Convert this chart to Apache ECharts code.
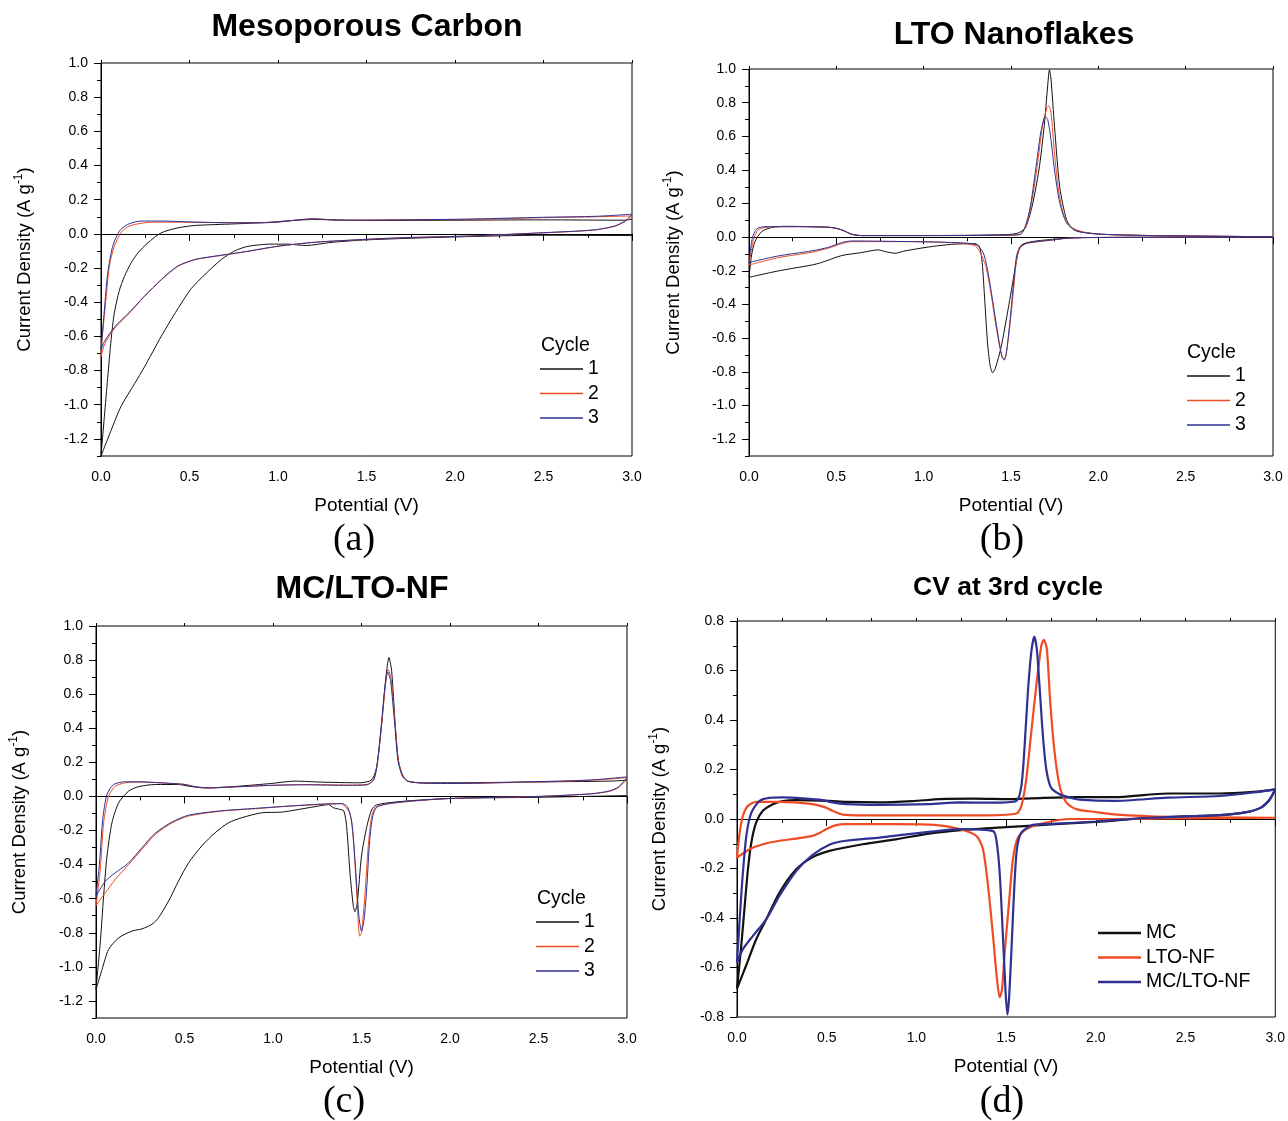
<!DOCTYPE html>
<html>
<head>
<meta charset="utf-8">
<script src="https://cdn.jsdelivr.net/npm/echarts@6/dist/echarts.min.js"></script>
<style>
  html, body { margin: 0; padding: 0; background: #fff; }
  #chart { width: 1288px; height: 1121px; }
</style>
</head>
<body>
<div id="chart"></div>
<script>
// ---- tick values ----
const xMajor = [0, 0.5, 1.0, 1.5, 2.0, 2.5, 3.0]
const xMinor = [0.25, 0.75, 1.25, 1.75, 2.25, 2.75]
const yMajorWide = [-1.2, -1.0, -0.8, -0.6, -0.4, -0.2, 0, 0.2, 0.4, 0.6, 0.8, 1.0]
const yMinorWide = [-1.3, -1.1, -0.9, -0.7, -0.5, -0.3, -0.1, 0.1, 0.3, 0.5, 0.7, 0.9]
const yMajorD = [-0.8, -0.6, -0.4, -0.2, 0, 0.2, 0.4, 0.6, 0.8]
const yMinorD = [-0.7, -0.5, -0.3, -0.1, 0.1, 0.3, 0.5, 0.7]

// ---- (a) Mesoporous Carbon: [potential V, current A/g] ----
// cathodic sweep 3.0 -> 0, then anodic sweep 0 -> 3.0
const aC1Neg = [[3.0, -0.01], [2.5, -0.008], [2.0, -0.018], [1.5, -0.035], [1.3, -0.05], [1.16, -0.068], [1.05, -0.06], [0.96, -0.06], [0.83, -0.073], [0.755, -0.10], [0.68, -0.15], [0.585, -0.24], [0.51, -0.32], [0.43, -0.445], [0.34, -0.60], [0.245, -0.78], [0.19, -0.876], [0.113, -1.01], [0.057, -1.15], [0.0, -1.3]]
const aC1Pos = [[0.0, -1.3], [0.019, -1.07], [0.038, -0.84], [0.057, -0.62], [0.075, -0.465], [0.104, -0.33], [0.132, -0.25], [0.17, -0.17], [0.21, -0.11], [0.264, -0.053], [0.34, 0.006], [0.434, 0.035], [0.53, 0.049], [0.717, 0.057], [0.906, 0.065], [1.2, 0.084], [1.5, 0.078], [2.0, 0.08], [2.5, 0.082], [2.95, 0.08], [3.0, 0.085]]
const aC2Neg = [[3.0, 0.10], [2.964, 0.074], [2.905, 0.045], [2.806, 0.025], [2.7, 0.016], [2.5, 0.006], [2.1, -0.012], [1.72, -0.022], [1.5, -0.032], [1.21, -0.049], [1.0, -0.073], [0.81, -0.106], [0.62, -0.135], [0.53, -0.151], [0.434, -0.19], [0.34, -0.27], [0.245, -0.367], [0.15, -0.475], [0.094, -0.533], [0.057, -0.58], [0.019, -0.65], [0.0, -0.72]]
const aC2Pos = [[0.0, -0.72], [0.006, -0.62], [0.028, -0.386], [0.047, -0.19], [0.075, -0.073], [0.113, 0.006], [0.15, 0.041], [0.21, 0.059], [0.30, 0.069], [0.5, 0.068], [0.755, 0.065], [0.95, 0.066], [1.2, 0.088], [1.35, 0.08], [1.7, 0.082], [2.1, 0.085], [2.5, 0.095], [2.8, 0.1], [3.0, 0.105]]
const aC3Neg = [[3.0, 0.115], [2.964, 0.078], [2.905, 0.047], [2.806, 0.026], [2.7, 0.017], [2.5, 0.007], [2.1, -0.012], [1.72, -0.022], [1.5, -0.032], [1.21, -0.049], [1.0, -0.072], [0.81, -0.105], [0.62, -0.134], [0.53, -0.15], [0.434, -0.188], [0.34, -0.268], [0.245, -0.365], [0.15, -0.47], [0.094, -0.525], [0.057, -0.572], [0.019, -0.63], [0.0, -0.68]]
const aC3Pos = [[0.0, -0.68], [0.019, -0.445], [0.038, -0.23], [0.066, -0.073], [0.104, 0.016], [0.15, 0.055], [0.226, 0.075], [0.34, 0.075], [0.53, 0.069], [0.755, 0.065], [0.95, 0.066], [1.2, 0.088], [1.35, 0.08], [1.7, 0.082], [2.1, 0.087], [2.5, 0.097], [2.8, 0.103], [3.0, 0.115]]

// ---- (b) LTO Nanoflakes ----
const bC1Neg = [[3.0, 0.002], [2.3, 0.0], [1.92, -0.002], [1.82, -0.006], [1.72, -0.014], [1.62, -0.026], [1.562, -0.044], [1.542, -0.084], [1.523, -0.19], [1.483, -0.43], [1.444, -0.65], [1.41, -0.78], [1.395, -0.805], [1.38, -0.76], [1.365, -0.62], [1.35, -0.38], [1.335, -0.15], [1.32, -0.056], [1.294, -0.038], [1.16, -0.042], [1.027, -0.058], [0.893, -0.081], [0.836, -0.095], [0.78, -0.085], [0.74, -0.075], [0.645, -0.091], [0.53, -0.109], [0.416, -0.15], [0.359, -0.165], [0.168, -0.20], [0.0, -0.238]]
const bC1Pos = [[0.0, -0.238], [0.015, -0.105], [0.034, -0.026], [0.073, 0.034], [0.13, 0.058], [0.206, 0.065], [0.359, 0.063], [0.473, 0.058], [0.53, 0.044], [0.588, 0.018], [0.645, 0.01], [1.0, 0.01], [1.483, 0.016], [1.542, 0.026], [1.582, 0.056], [1.621, 0.185], [1.66, 0.40], [1.69, 0.66], [1.71, 0.90], [1.72, 0.995], [1.729, 0.94], [1.749, 0.66], [1.779, 0.30], [1.818, 0.105], [1.857, 0.046], [1.916, 0.03], [2.015, 0.018], [2.31, 0.01], [3.0, 0.003]]
const bC2Neg = [[3.0, 0.002], [2.31, 0.0], [1.916, -0.002], [1.818, -0.006], [1.72, -0.018], [1.621, -0.03], [1.582, -0.04], [1.552, -0.064], [1.532, -0.134], [1.513, -0.33], [1.493, -0.53], [1.473, -0.69], [1.461, -0.727], [1.444, -0.69], [1.414, -0.53], [1.385, -0.33], [1.355, -0.17], [1.32, -0.085], [1.294, -0.05], [1.217, -0.036], [1.12, -0.03], [0.93, -0.026], [0.588, -0.026], [0.53, -0.038], [0.454, -0.065], [0.359, -0.089], [0.168, -0.121], [0.0, -0.165]]
const bC2Pos = [[0.0, -0.165], [0.025, -0.016], [0.053, 0.044], [0.111, 0.06], [0.263, 0.063], [0.473, 0.058], [0.53, 0.044], [0.588, 0.018], [0.645, 0.01], [1.0, 0.01], [1.523, 0.012], [1.562, 0.026], [1.592, 0.086], [1.621, 0.225], [1.65, 0.42], [1.68, 0.66], [1.706, 0.77], [1.716, 0.78], [1.729, 0.74], [1.749, 0.50], [1.769, 0.305], [1.798, 0.145], [1.838, 0.066], [1.916, 0.03], [2.015, 0.018], [2.31, 0.01], [3.0, 0.003]]
const bC3Neg = [[3.0, 0.002], [2.31, 0.0], [1.916, -0.002], [1.818, -0.006], [1.72, -0.018], [1.621, -0.03], [1.582, -0.038], [1.552, -0.058], [1.532, -0.11], [1.513, -0.29], [1.493, -0.51], [1.473, -0.69], [1.461, -0.73], [1.448, -0.71], [1.424, -0.57], [1.394, -0.37], [1.365, -0.19], [1.34, -0.09], [1.294, -0.042], [1.12, -0.03], [0.93, -0.026], [0.588, -0.022], [0.53, -0.032], [0.454, -0.06], [0.359, -0.081], [0.168, -0.111], [0.0, -0.15]]
const bC3Pos = [[0.0, -0.15], [0.019, -0.006], [0.044, 0.05], [0.092, 0.063], [0.263, 0.063], [0.473, 0.058], [0.53, 0.044], [0.588, 0.018], [0.645, 0.01], [1.0, 0.01], [1.55, 0.015], [1.582, 0.066], [1.611, 0.185], [1.641, 0.40], [1.67, 0.62], [1.696, 0.717], [1.71, 0.70], [1.729, 0.58], [1.749, 0.40], [1.779, 0.205], [1.818, 0.086], [1.877, 0.036], [2.015, 0.018], [2.31, 0.01], [3.0, 0.003]]

// ---- (c) MC/LTO-NF ----
const cC1Neg = [[3.0, 0.005], [2.5, -0.005], [2.0, -0.012], [1.718, -0.03], [1.584, -0.05], [1.557, -0.079], [1.53, -0.177], [1.5, -0.35], [1.476, -0.625], [1.463, -0.675], [1.454, -0.645], [1.435, -0.45], [1.416, -0.177], [1.40, -0.085], [1.37, -0.074], [1.34, -0.066], [1.315, -0.048], [1.237, -0.06], [1.124, -0.08], [1.049, -0.092], [0.936, -0.096], [0.823, -0.125], [0.748, -0.155], [0.673, -0.213], [0.598, -0.29], [0.523, -0.39], [0.466, -0.497], [0.41, -0.614], [0.353, -0.712], [0.316, -0.75], [0.26, -0.777], [0.203, -0.79], [0.128, -0.83], [0.071, -0.898], [0.034, -1.016], [0.0, -1.133]]
const cC1Pos = [[0.0, -1.133], [0.024, -0.86], [0.043, -0.585], [0.062, -0.35], [0.09, -0.155], [0.128, -0.037], [0.184, 0.031], [0.24, 0.057], [0.335, 0.07], [0.466, 0.07], [0.523, 0.06], [0.617, 0.05], [0.805, 0.06], [0.99, 0.076], [1.124, 0.09], [1.27, 0.084], [1.49, 0.08], [1.557, 0.097], [1.586, 0.175], [1.614, 0.43], [1.638, 0.70], [1.655, 0.815], [1.67, 0.74], [1.69, 0.43], [1.708, 0.214], [1.73, 0.13], [1.76, 0.09], [1.85, 0.08], [2.0, 0.08], [2.5, 0.085], [2.9, 0.09], [3.0, 0.095]]
const cC2Neg = [[3.0, 0.1], [2.95, 0.05], [2.9, 0.03], [2.8, 0.015], [2.5, 0.0], [2.0, -0.012], [1.718, -0.035], [1.584, -0.06], [1.557, -0.118], [1.538, -0.294], [1.52, -0.567], [1.50, -0.80], [1.49, -0.82], [1.473, -0.567], [1.454, -0.255], [1.435, -0.1], [1.40, -0.05], [1.387, -0.043], [1.27, -0.047], [1.086, -0.057], [0.9, -0.072], [0.71, -0.086], [0.523, -0.115], [0.43, -0.155], [0.335, -0.223], [0.26, -0.31], [0.184, -0.40], [0.109, -0.487], [0.053, -0.565], [0.0, -0.64]]
const cC2Pos = [[0.0, -0.64], [0.024, -0.43], [0.043, -0.155], [0.071, 0.002], [0.109, 0.06], [0.165, 0.08], [0.24, 0.084], [0.43, 0.076], [0.504, 0.07], [0.56, 0.057], [0.635, 0.05], [0.805, 0.057], [0.99, 0.065], [1.18, 0.07], [1.425, 0.067], [1.53, 0.07], [1.57, 0.1], [1.59, 0.2], [1.614, 0.42], [1.635, 0.65], [1.651, 0.745], [1.667, 0.69], [1.69, 0.42], [1.708, 0.214], [1.73, 0.13], [1.76, 0.09], [1.85, 0.078], [2.0, 0.076], [2.5, 0.085], [2.8, 0.095], [3.0, 0.11]]
const cC3Neg = [[3.0, 0.11], [2.95, 0.055], [2.9, 0.032], [2.8, 0.016], [2.5, 0.0], [2.0, -0.012], [1.718, -0.033], [1.59, -0.06], [1.565, -0.11], [1.546, -0.26], [1.53, -0.53], [1.515, -0.72], [1.50, -0.79], [1.485, -0.70], [1.465, -0.4], [1.445, -0.15], [1.42, -0.06], [1.387, -0.042], [1.27, -0.045], [1.086, -0.057], [0.9, -0.07], [0.71, -0.084], [0.523, -0.11], [0.43, -0.15], [0.335, -0.215], [0.26, -0.3], [0.184, -0.39], [0.109, -0.448], [0.053, -0.497], [0.0, -0.585]]
const cC3Pos = [[0.0, -0.585], [0.02, -0.39], [0.038, -0.135], [0.062, 0.012], [0.1, 0.07], [0.165, 0.086], [0.24, 0.086], [0.43, 0.076], [0.504, 0.07], [0.56, 0.057], [0.635, 0.05], [0.805, 0.057], [0.99, 0.065], [1.18, 0.068], [1.425, 0.065], [1.53, 0.068], [1.57, 0.1], [1.59, 0.2], [1.612, 0.42], [1.632, 0.64], [1.648, 0.73], [1.664, 0.68], [1.688, 0.42], [1.706, 0.21], [1.73, 0.12], [1.76, 0.09], [1.85, 0.078], [2.0, 0.076], [2.5, 0.087], [2.8, 0.097], [3.0, 0.115]]

// ---- (d) CV at 3rd cycle ----
const dMcNeg = [[3.0, 0.12], [2.97, 0.08], [2.92, 0.046], [2.84, 0.028], [2.69, 0.016], [2.3, 0.005], [2.0, -0.012], [1.75, -0.022], [1.5, -0.033], [1.25, -0.045], [1.07, -0.059], [0.885, -0.082], [0.7, -0.102], [0.515, -0.129], [0.42, -0.155], [0.33, -0.203], [0.237, -0.297], [0.163, -0.405], [0.107, -0.486], [0.052, -0.59], [0.0, -0.685]]
const dMcPos = [[0.0, -0.685], [0.024, -0.51], [0.043, -0.35], [0.061, -0.203], [0.08, -0.095], [0.107, -0.014], [0.144, 0.033], [0.2, 0.06], [0.256, 0.072], [0.33, 0.076], [0.515, 0.073], [0.607, 0.069], [0.793, 0.067], [0.978, 0.072], [1.13, 0.08], [1.32, 0.082], [1.52, 0.08], [1.71, 0.085], [1.9, 0.088], [2.1, 0.088], [2.4, 0.103], [2.69, 0.103], [2.88, 0.11], [3.0, 0.12]]
const dLtoNeg = [[3.0, 0.005], [2.4, 0.002], [2.1, 0.0], [1.853, 0.0], [1.705, -0.017], [1.612, -0.041], [1.566, -0.075], [1.538, -0.162], [1.516, -0.337], [1.492, -0.54], [1.477, -0.688], [1.464, -0.721], [1.449, -0.647], [1.427, -0.472], [1.399, -0.27], [1.371, -0.122], [1.334, -0.068], [1.241, -0.041], [1.1, -0.024], [0.9, -0.021], [0.607, -0.021], [0.552, -0.025], [0.496, -0.041], [0.46, -0.057], [0.42, -0.068], [0.33, -0.079], [0.237, -0.088], [0.144, -0.102], [0.07, -0.122], [0.0, -0.156]]
const dLtoPos = [[0.0, -0.156], [0.015, -0.055], [0.033, 0.013], [0.061, 0.053], [0.107, 0.069], [0.237, 0.069], [0.42, 0.06], [0.496, 0.046], [0.533, 0.033], [0.589, 0.018], [0.7, 0.015], [1.39, 0.015], [1.557, 0.022], [1.585, 0.053], [1.612, 0.16], [1.64, 0.35], [1.668, 0.538], [1.696, 0.70], [1.71, 0.724], [1.727, 0.686], [1.746, 0.47], [1.77, 0.27], [1.798, 0.134], [1.835, 0.067], [1.89, 0.04], [2.0, 0.028], [2.1, 0.019], [2.4, 0.009], [3.0, 0.005]]
const dNfNeg = [[3.0, 0.12], [2.97, 0.08], [2.92, 0.046], [2.84, 0.028], [2.69, 0.016], [2.3, 0.005], [2.0, -0.01], [1.75, -0.02], [1.649, -0.024], [1.585, -0.055], [1.56, -0.122], [1.544, -0.297], [1.529, -0.54], [1.516, -0.728], [1.507, -0.79], [1.497, -0.70], [1.482, -0.472], [1.464, -0.216], [1.445, -0.082], [1.427, -0.049], [1.241, -0.041], [1.07, -0.052], [0.793, -0.075], [0.607, -0.088], [0.515, -0.104], [0.42, -0.146], [0.33, -0.21], [0.237, -0.31], [0.163, -0.405], [0.089, -0.472], [0.033, -0.526], [0.0, -0.58]]
const dNfPos = [[0.0, -0.58], [0.015, -0.405], [0.03, -0.243], [0.052, -0.068], [0.08, 0.026], [0.126, 0.073], [0.18, 0.085], [0.256, 0.087], [0.367, 0.083], [0.478, 0.076], [0.533, 0.067], [0.607, 0.06], [0.793, 0.057], [1.07, 0.06], [1.241, 0.067], [1.427, 0.066], [1.557, 0.073], [1.585, 0.134], [1.603, 0.295], [1.621, 0.51], [1.64, 0.673], [1.657, 0.737], [1.671, 0.686], [1.686, 0.538], [1.705, 0.336], [1.724, 0.2], [1.75, 0.127], [1.798, 0.1], [1.853, 0.087], [1.91, 0.078], [2.1, 0.073], [2.4, 0.086], [2.69, 0.093], [2.88, 0.107], [3.0, 0.12]]

const BLACK = '#111111'
const RED = '#ef4b24'
const BLUE = '#2e3192'
const SANS = '"Liberation Sans", Arial, sans-serif'
const SERIF = '"Liberation Serif", "Times New Roman", serif'

const chart = echarts.init(document.getElementById('chart'))

// grid boxes of the four panels
const panels = [
  { left: 101, top: 63, width: 531, height: 393, ymin: -1.3, ymax: 1.0, yMaj: yMajorWide, yMin: yMinorWide, topTicks: xMajor, yGap: 64 },
  { left: 749, top: 69, width: 524, height: 387, ymin: -1.3, ymax: 1.0, yMaj: yMajorWide, yMin: yMinorWide, topTicks: xMajor, yGap: 63 },
  { left: 96, top: 626, width: 531, height: 392, ymin: -1.3, ymax: 1.0, yMaj: yMajorWide, yMin: yMinorWide, topTicks: xMajor, yGap: 64 },
  { left: 737, top: 621, width: 539, height: 396, ymin: -0.8, ymax: 0.8, yMaj: yMajorD, yMin: yMinorD, topTicks: xMajor.concat(xMinor), yGap: 65 }
]

const grid = []
const xAxis = []
const yAxis = []
const axisLineStyle = { color: '#000', width: 1 }
const labelStyle = { color: '#000', fontSize: 14, fontFamily: SANS }

panels.forEach(function (p, i) {
  grid.push({ left: p.left, top: p.top, width: p.width, height: p.height, show: true, borderColor: '#000', borderWidth: 1, backgroundColor: 'transparent' })
  // bottom axis with labels + major ticks
  xAxis.push({
    gridIndex: i, type: 'value', min: 0, max: 3, position: 'bottom',
    axisLine: { show: true, lineStyle: axisLineStyle },
    axisTick: { show: true, inside: false, length: 7, customValues: xMajor, lineStyle: axisLineStyle },
    axisLabel: { show: true, customValues: xMajor, margin: 14, formatter: function (v) { return Number(v).toFixed(1) }, ...labelStyle },
    splitLine: { show: false },
    name: 'Potential (V)', nameLocation: 'middle', nameGap: 40,
    nameTextStyle: { color: '#000', fontSize: 19, fontFamily: SANS }
  })
  // minor bottom ticks
  xAxis.push({
    gridIndex: i, type: 'value', min: 0, max: 3, position: 'bottom',
    axisLine: { show: false },
    axisTick: { show: true, inside: false, length: 4, customValues: xMinor, lineStyle: axisLineStyle },
    axisLabel: { show: false }, splitLine: { show: false }
  })
  // top ticks
  xAxis.push({
    gridIndex: i, type: 'value', min: 0, max: 3, position: 'top',
    axisLine: { show: false },
    axisTick: { show: true, inside: false, length: 3, customValues: p.topTicks, lineStyle: axisLineStyle },
    axisLabel: { show: false }, splitLine: { show: false }
  })
  yAxis.push({
    gridIndex: i, type: 'value', min: p.ymin, max: p.ymax, position: 'left',
    axisLine: { show: true, lineStyle: axisLineStyle },
    axisTick: { show: true, inside: false, length: 7, customValues: p.yMaj, lineStyle: axisLineStyle },
    axisLabel: { show: true, customValues: p.yMaj, margin: 13, formatter: function (v) { return Number(v).toFixed(1) }, ...labelStyle },
    splitLine: { show: false },
    name: '{t|Current Density (A g}{s|-1}{t|)}',
    nameLocation: 'middle', nameGap: p.yGap, nameRotate: 90,
    nameTextStyle: {
      color: '#000', fontSize: 18.5, fontFamily: SANS,
      rich: {
        t: { fontSize: 18.5, fontFamily: SANS, color: '#000', lineHeight: 24 },
        s: { fontSize: 12, fontFamily: SANS, color: '#000', verticalAlign: 'top', lineHeight: 24 }
      }
    }
  })
  yAxis.push({
    gridIndex: i, type: 'value', min: p.ymin, max: p.ymax, position: 'left',
    axisLine: { show: false },
    axisTick: { show: true, inside: false, length: 4, customValues: p.yMin, lineStyle: axisLineStyle },
    axisLabel: { show: false }, splitLine: { show: false }
  })
})

function loop (name, panel, neg, pos, color, width) {
  return {
    name: name, type: 'line',
    xAxisIndex: panel * 3, yAxisIndex: panel * 2,
    data: neg.concat(pos),
    showSymbol: false, symbol: 'none', smooth: 0.25,
    color: color,
    lineStyle: { color: color, width: width },
    itemStyle: { color: color },
    animation: false, silent: true
  }
}

const series = [
  loop('1', 0, aC1Neg, aC1Pos, BLACK, 1),
  loop('2', 0, aC2Neg, aC2Pos, RED, 1),
  loop('3', 0, aC3Neg, aC3Pos, BLUE, 1),
  loop('1', 1, bC1Neg, bC1Pos, BLACK, 1),
  loop('2', 1, bC2Neg, bC2Pos, RED, 1),
  loop('3', 1, bC3Neg, bC3Pos, BLUE, 1),
  loop('1', 2, cC1Neg, cC1Pos, BLACK, 1),
  loop('2', 2, cC2Neg, cC2Pos, RED, 1),
  loop('3', 2, cC3Neg, cC3Pos, BLUE, 1),
  loop('MC', 3, dMcNeg, dMcPos, BLACK, 2.2),
  loop('LTO-NF', 3, dLtoNeg, dLtoPos, RED, 2.2),
  loop('MC/LTO-NF', 3, dNfNeg, dNfPos, BLUE, 2.2)
]

function cycleLegend (left, top) {
  return {
    data: ['1', '2', '3'], left: left, top: top, orient: 'vertical', padding: 0,
    icon: 'rect', itemWidth: 43, itemHeight: 1.3, itemGap: 4.5,
    textStyle: { color: '#000', fontSize: 19.5, fontFamily: SANS },
    selectedMode: false
  }
}

const legend = [
  cycleLegend(540, 359),
  cycleLegend(1187, 366),
  cycleLegend(536, 912),
  {
    data: ['MC', 'LTO-NF', 'MC/LTO-NF'], left: 1098, top: 923, orient: 'vertical', padding: 0,
    icon: 'rect', itemWidth: 43, itemHeight: 2.5, itemGap: 4.5,
    textStyle: { color: '#000', fontSize: 19.5, fontFamily: SANS },
    selectedMode: false
  }
]

function txt (x, y, text, font, align) {
  return { type: 'text', x: x, y: y, silent: true, style: { text: text, font: font, fill: '#000', align: align || 'center', verticalAlign: 'middle' } }
}

const graphic = [
  txt(367, 27, 'Mesoporous Carbon', 'bold 32px ' + SANS),
  txt(1014, 35, 'LTO Nanoflakes', 'bold 32px ' + SANS),
  txt(362, 589, 'MC/LTO-NF', 'bold 32px ' + SANS),
  txt(1008, 588, 'CV at 3rd cycle', 'bold 26.5px ' + SANS),
  txt(354, 540, '(a)', '38px ' + SERIF),
  txt(1002, 540, '(b)', '38px ' + SERIF),
  txt(344, 1102, '(c)', '38px ' + SERIF),
  txt(1002, 1102, '(d)', '38px ' + SERIF),
  txt(541, 346, 'Cycle', '19.5px ' + SANS, 'left'),
  txt(1187, 353, 'Cycle', '19.5px ' + SANS, 'left'),
  txt(537, 899, 'Cycle', '19.5px ' + SANS, 'left')
]

chart.setOption({
  animation: false,
  backgroundColor: '#fff',
  grid: grid,
  xAxis: xAxis,
  yAxis: yAxis,
  legend: legend,
  series: series,
  graphic: graphic
})
</script>
</body>
</html>
